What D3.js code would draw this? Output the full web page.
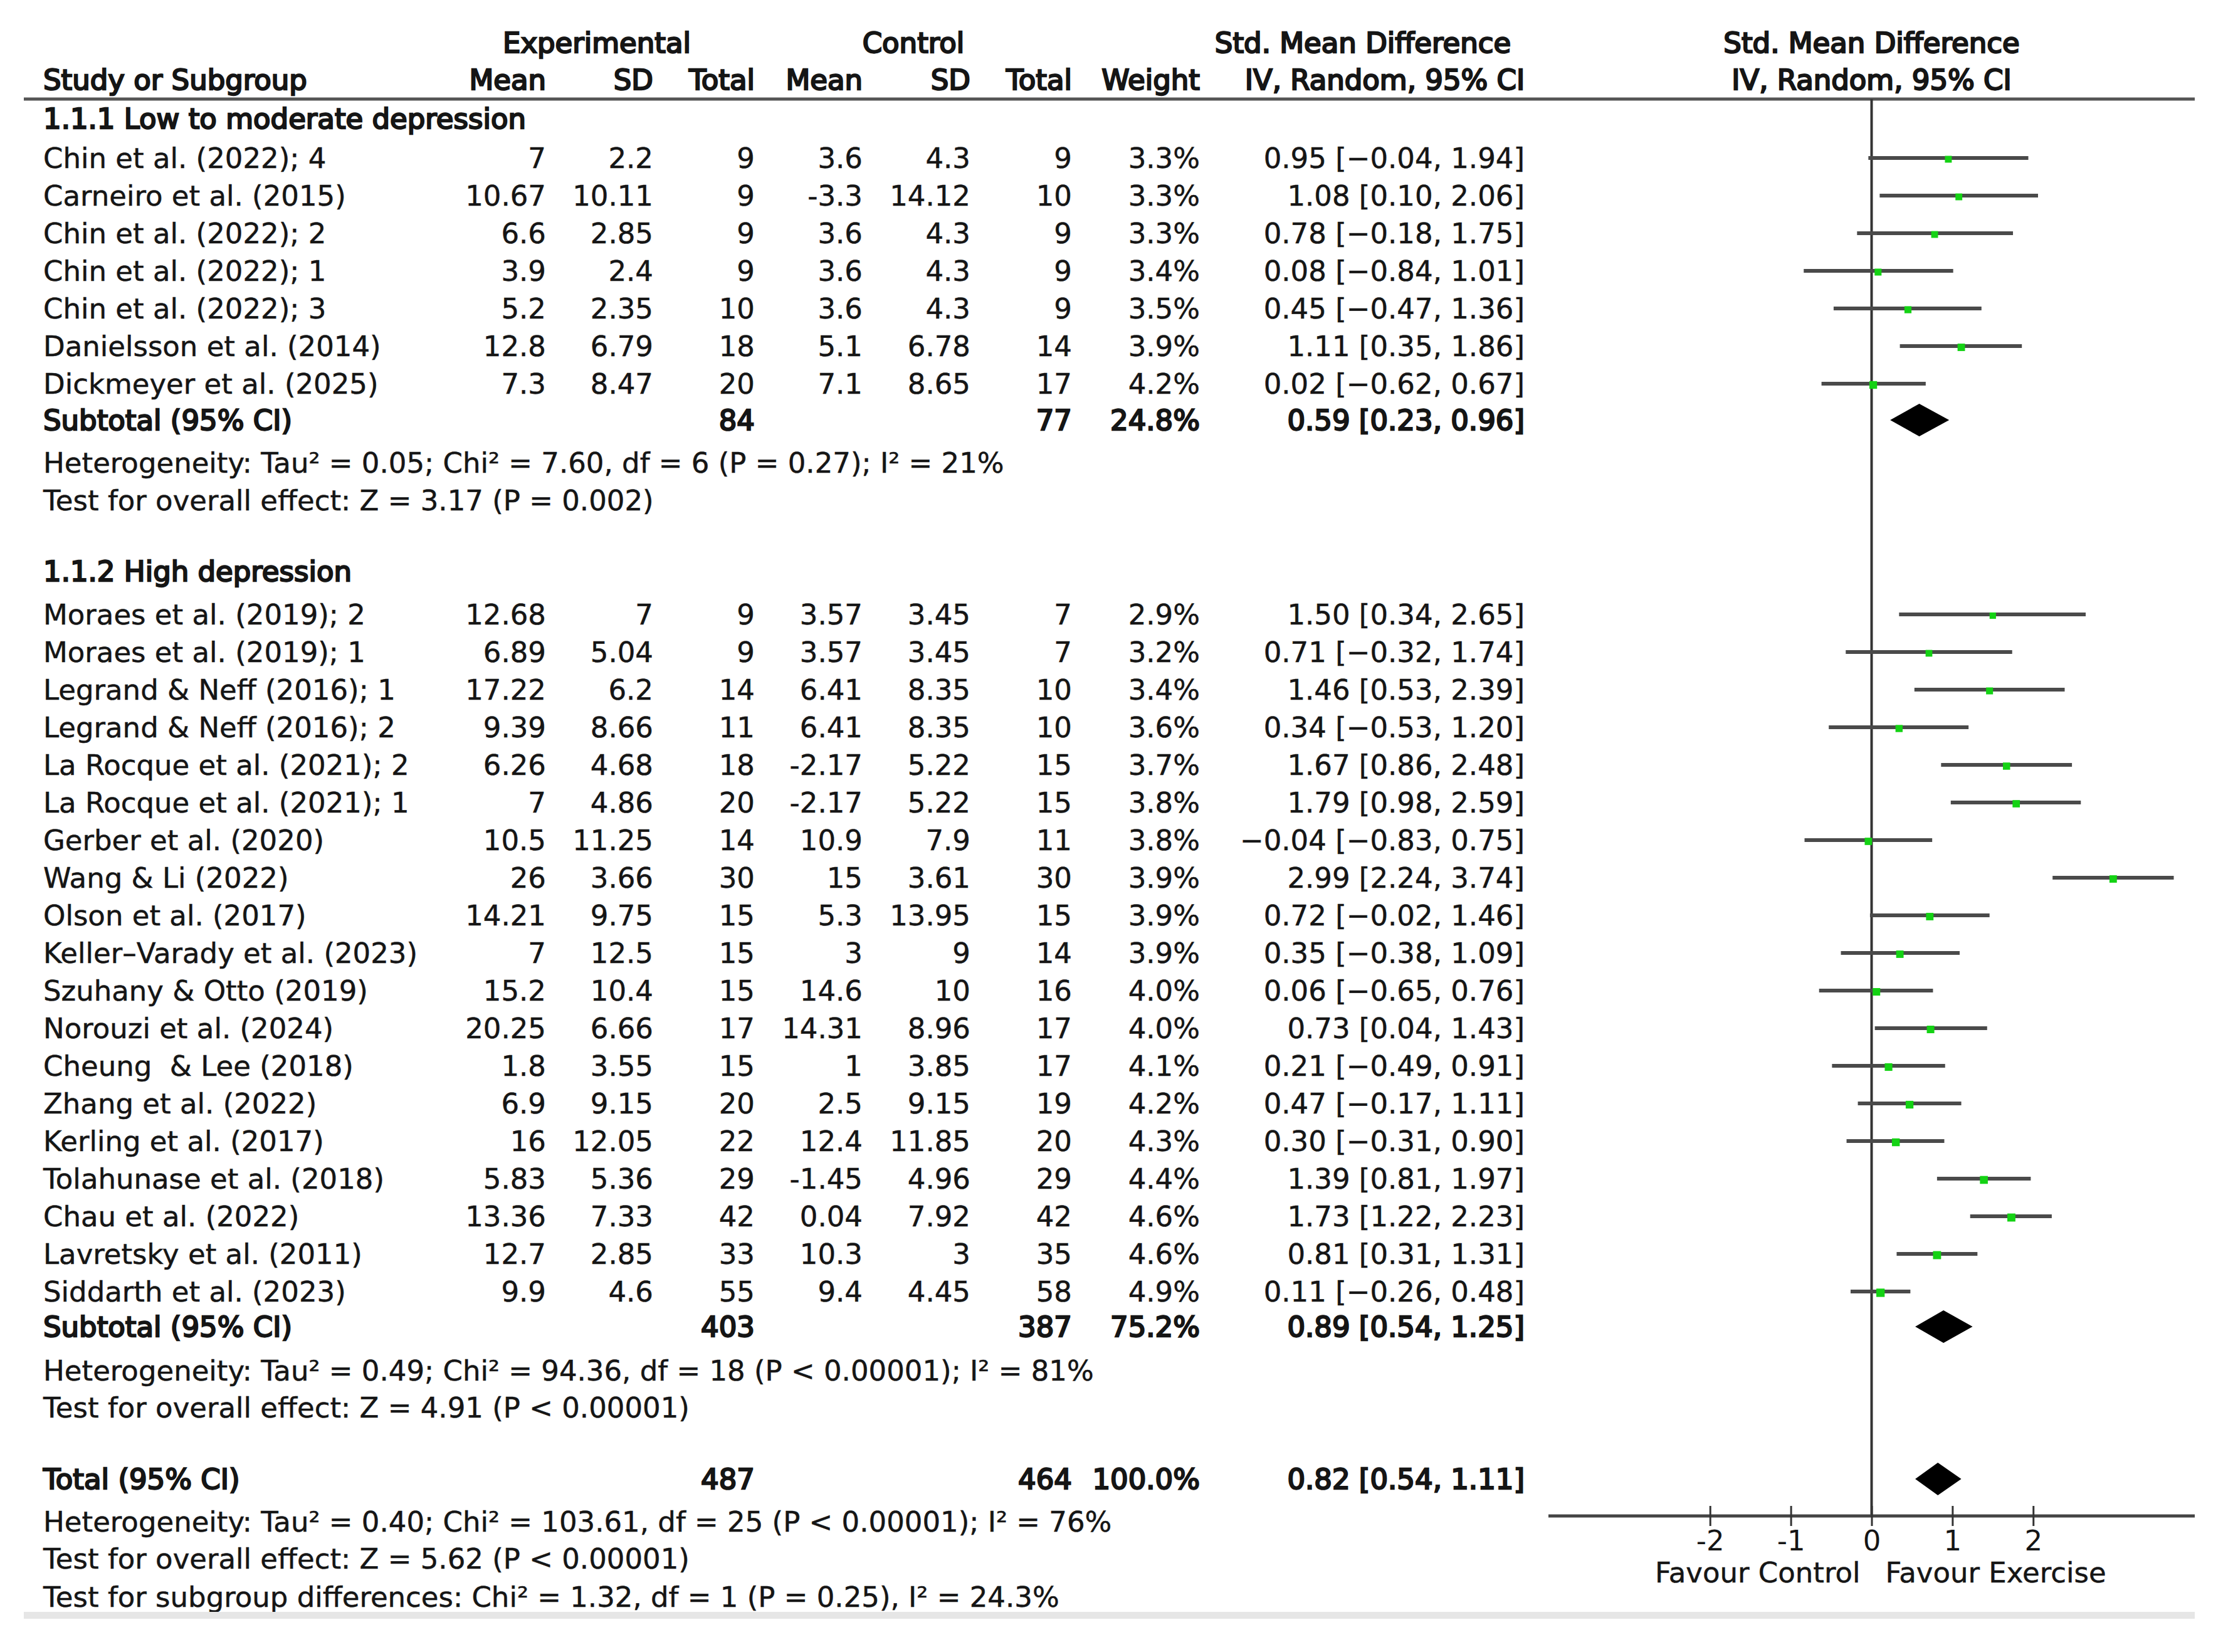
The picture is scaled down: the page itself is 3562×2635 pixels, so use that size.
<!DOCTYPE html>
<html>
<head>
<meta charset="utf-8">
<script src="https://cdn.jsdelivr.net/npm/d3@7/dist/d3.min.js"></script>
<style>
    body { margin: 0; background: #fff; }
    text { font-family: "DejaVu Sans", sans-serif; fill: #151515; white-space: pre; }
</style>
</head>
<body>
<svg id="forest" width="3562" height="2635"></svg>
<script>
// 1.1.1 低到中度抑郁
const lowStudies = ['Chin et al. (2022); 4', 'Carneiro et al. (2015)', 'Chin et al. (2022); 2', 'Chin et al. (2022); 1',
    'Chin et al. (2022); 3', 'Danielsson et al. (2014)', 'Dickmeyer et al. (2025)'];
const lowExpMean = [7, 10.67, 6.6, 3.9, 5.2, 12.8, 7.3];
const lowExpSD = [2.2, 10.11, 2.85, 2.4, 2.35, 6.79, 8.47];
const lowExpN = [9, 9, 9, 9, 10, 18, 20];
const lowCtrlMean = [3.6, -3.3, 3.6, 3.6, 3.6, 5.1, 7.1];
const lowCtrlSD = [4.3, 14.12, 4.3, 4.3, 4.3, 6.78, 8.65];
const lowCtrlN = [9, 10, 9, 9, 9, 14, 17];
const lowWeight = [3.3, 3.3, 3.3, 3.4, 3.5, 3.9, 4.2];
const lowSMD = [0.95, 1.08, 0.78, 0.08, 0.45, 1.11, 0.02];
const lowLo = [-0.04, 0.10, -0.18, -0.84, -0.47, 0.35, -0.62];
const lowHi = [1.94, 2.06, 1.75, 1.01, 1.36, 1.86, 0.67];

// 1.1.2 高度抑郁
const highStudies = ['Moraes et al. (2019); 2', 'Moraes et al. (2019); 1', 'Legrand & Neff (2016); 1', 'Legrand & Neff (2016); 2',
    'La Rocque et al. (2021); 2', 'La Rocque et al. (2021); 1', 'Gerber et al. (2020)', 'Wang & Li (2022)', 'Olson et al. (2017)',
    'Keller–Varady et al. (2023)', 'Szuhany & Otto (2019)', 'Norouzi et al. (2024)', 'Cheung  & Lee (2018)', 'Zhang et al. (2022)',
    'Kerling et al. (2017)', 'Tolahunase et al. (2018)', 'Chau et al. (2022)', 'Lavretsky et al. (2011)', 'Siddarth et al. (2023)'];
const highExpMean = [12.68, 6.89, 17.22, 9.39, 6.26, 7, 10.5, 26, 14.21, 7, 15.2, 20.25, 1.8, 6.9, 16, 5.83, 13.36, 12.7, 9.9];
const highExpSD = [7, 5.04, 6.2, 8.66, 4.68, 4.86, 11.25, 3.66, 9.75, 12.5, 10.4, 6.66, 3.55, 9.15, 12.05, 5.36, 7.33, 2.85, 4.6];
const highExpN = [9, 9, 14, 11, 18, 20, 14, 30, 15, 15, 15, 17, 15, 20, 22, 29, 42, 33, 55];
const highCtrlMean = [3.57, 3.57, 6.41, 6.41, -2.17, -2.17, 10.9, 15, 5.3, 3, 14.6, 14.31, 1, 2.5, 12.4, -1.45, 0.04, 10.3, 9.4];
const highCtrlSD = [3.45, 3.45, 8.35, 8.35, 5.22, 5.22, 7.9, 3.61, 13.95, 9, 10, 8.96, 3.85, 9.15, 11.85, 4.96, 7.92, 3, 4.45];
const highCtrlN = [7, 7, 10, 10, 15, 15, 11, 30, 15, 14, 16, 17, 17, 19, 20, 29, 42, 35, 58];
const highWeight = [2.9, 3.2, 3.4, 3.6, 3.7, 3.8, 3.8, 3.9, 3.9, 3.9, 4.0, 4.0, 4.1, 4.2, 4.3, 4.4, 4.6, 4.6, 4.9];
const highSMD = [1.50, 0.71, 1.46, 0.34, 1.67, 1.79, -0.04, 2.99, 0.72, 0.35, 0.06, 0.73, 0.21, 0.47, 0.30, 1.39, 1.73, 0.81, 0.11];
const highLo = [0.34, -0.32, 0.53, -0.53, 0.86, 0.98, -0.83, 2.24, -0.02, -0.38, -0.65, 0.04, -0.49, -0.17, -0.31, 0.81, 1.22, 0.31, -0.26];
const highHi = [2.65, 1.74, 2.39, 1.20, 2.48, 2.59, 0.75, 3.74, 1.46, 1.09, 0.76, 1.43, 0.91, 1.11, 0.90, 1.97, 2.23, 1.31, 0.48];

// 合并结果: 低/中, 高, 总计
const pooledLabels = ['Subtotal (95% CI)', 'Subtotal (95% CI)', 'Total (95% CI)'];
const pooledExpN = [84, 403, 487];
const pooledCtrlN = [77, 387, 464];
const pooledWeight = [24.8, 75.2, 100.0];
const pooledSMD = [0.59, 0.89, 0.82];
const pooledLo = [0.23, 0.54, 0.54];
const pooledHi = [0.96, 1.25, 1.11];

const groupTitles = ['1.1.1 Low to moderate depression', '1.1.2 High depression'];
const statLines = [
    ['Heterogeneity: Tau² = 0.05; Chi² = 7.60, df = 6 (P = 0.27); I² = 21%', 'Test for overall effect: Z = 3.17 (P = 0.002)'],
    ['Heterogeneity: Tau² = 0.49; Chi² = 94.36, df = 18 (P < 0.00001); I² = 81%', 'Test for overall effect: Z = 4.91 (P < 0.00001)'],
    ['Heterogeneity: Tau² = 0.40; Chi² = 103.61, df = 25 (P < 0.00001); I² = 76%', 'Test for overall effect: Z = 5.62 (P < 0.00001)',
        'Test for subgroup differences: Chi² = 1.32, df = 1 (P = 0.25), I² = 24.3%']
];
const axisTicks = [-2, -1, 0, 1, 2];
const favourLabels = ['Favour Control', 'Favour Exercise'];

const FS = 45;
const svg = d3.select('#forest');
const f2 = d3.format('.2f');
const f1 = d3.format('.1f');

// 列的位置 (右对齐)
const col = { study: 69, expMean: 871, expSD: 1042, expN: 1204, ctrlMean: 1376, ctrlSD: 1548, ctrlN: 1710, weight: 1914, ci: 2432 };

// 森林图的 x 比例尺
const x = d3.scaleLinear().domain([-4, 4]).range([2470, 3501]);
const axisY = 2418;
const topRule = 158;

function txt(xp, yp, s, anchor, bold) {
    const t = svg.append('text')
        .attr('x', xp)
        .attr('y', yp)
        .attr('dy', '0.36em')
        .attr('font-size', FS)
        .attr('text-anchor', anchor || 'start')
        .style('stroke', '#151515')
        .style('stroke-width', bold ? 2.4 : 0.5)
        .style('paint-order', 'stroke')
        .text(s);
    return t;
}

// 表头
txt(952, 68, 'Experimental', 'middle', true);
txt(1457, 68, 'Control', 'middle', true);
txt(2174, 68, 'Std. Mean Difference', 'middle', true);
txt(x(0), 68, 'Std. Mean Difference', 'middle', true);
txt(col.study, 127, 'Study or Subgroup', 'start', true);
[['expMean', 'Mean'], ['expSD', 'SD'], ['expN', 'Total'], ['ctrlMean', 'Mean'], ['ctrlSD', 'SD'], ['ctrlN', 'Total'], ['weight', 'Weight']]
    .forEach(d => txt(col[d[0]], 127, d[1], 'end', true));
txt(2209, 127, 'IV, Random, 95% CI', 'middle', true);
txt(x(0), 127, 'IV, Random, 95% CI', 'middle', true);

svg.append('line')
    .attr('x1', 38).attr('x2', x(4))
    .attr('y1', topRule).attr('y2', topRule)
    .attr('stroke', '#555').attr('stroke-width', 5);

// 零线
svg.append('line')
    .attr('x1', x(0)).attr('x2', x(0))
    .attr('y1', topRule).attr('y2', axisY)
    .attr('stroke', '#333').attr('stroke-width', 4);

function drawStudies(first, names, em, es, en, cm, cs, cn, w, smd, lo, hi) {
    const y = d3.scaleLinear().domain([0, names.length - 1]).range([first, first + (names.length - 1) * 60]);
    names.forEach((name, i) => {
        const yy = y(i);
        txt(col.study, yy, name);
        txt(col.expMean, yy, String(em[i]), 'end');
        txt(col.expSD, yy, String(es[i]), 'end');
        txt(col.expN, yy, String(en[i]), 'end');
        txt(col.ctrlMean, yy, String(cm[i]), 'end');
        txt(col.ctrlSD, yy, String(cs[i]), 'end');
        txt(col.ctrlN, yy, String(cn[i]), 'end');
        txt(col.weight, yy, f1(w[i]) + '%', 'end');
        txt(col.ci, yy, `${f2(smd[i])} [${f2(lo[i])}, ${f2(hi[i])}]`, 'end');

        svg.append('line')
            .attr('x1', x(lo[i])).attr('x2', x(hi[i]))
            .attr('y1', yy).attr('y2', yy)
            .attr('stroke', '#4a4a4a').attr('stroke-width', 6);
        const s = 6 * Math.sqrt(w[i]);
        svg.append('rect')
            .attr('x', x(smd[i]) - s / 2)
            .attr('y', yy - s / 2 + 2)
            .attr('width', s).attr('height', s)
            .attr('fill', '#14d214');
    });
}

function drawPooled(i, yy) {
    txt(col.study, yy, pooledLabels[i], 'start', true);
    txt(col.expN, yy, String(pooledExpN[i]), 'end', true);
    txt(col.ctrlN, yy, String(pooledCtrlN[i]), 'end', true);
    txt(col.weight, yy, f1(pooledWeight[i]) + '%', 'end', true);
    txt(col.ci, yy, `${f2(pooledSMD[i])} [${f2(pooledLo[i])}, ${f2(pooledHi[i])}]`, 'end', true);
    const h = 26;
    svg.append('path')
        .attr('d', `M${x(pooledLo[i])},${yy} L${x(pooledSMD[i])},${yy - h} L${x(pooledHi[i])},${yy} L${x(pooledSMD[i])},${yy + h} Z`)
        .attr('fill', '#000');
}

// 第一组
txt(col.study, 189, groupTitles[0], 'start', true);
drawStudies(252, lowStudies, lowExpMean, lowExpSD, lowExpN, lowCtrlMean, lowCtrlSD, lowCtrlN, lowWeight, lowSMD, lowLo, lowHi);
drawPooled(0, 670);
txt(col.study, 738, statLines[0][0]);
txt(col.study, 798, statLines[0][1]);

// 第二组
txt(col.study, 911, groupTitles[1], 'start', true);
drawStudies(980, highStudies, highExpMean, highExpSD, highExpN, highCtrlMean, highCtrlSD, highCtrlN, highWeight, highSMD, highLo, highHi);
drawPooled(1, 2116);
txt(col.study, 2186, statLines[1][0]);
txt(col.study, 2245, statLines[1][1]);

// 总计
drawPooled(2, 2359);
txt(col.study, 2427, statLines[2][0]);
txt(col.study, 2486, statLines[2][1]);
txt(col.study, 2547, statLines[2][2]);

// x 轴
const axisG = svg.append('g')
    .attr('transform', `translate(0,${axisY})`)
    .call(d3.axisBottom(x).tickValues(axisTicks).tickSize(16).tickPadding(8).tickFormat(d3.format('d')));
axisG.select('.domain').attr('stroke', '#444').attr('stroke-width', 5).attr('d', `M${x(-4)},0H${x(4)}`);
axisG.selectAll('.tick line').attr('y1', -16).attr('y2', 16).attr('stroke', '#333').attr('stroke-width', 3);
axisG.selectAll('.tick text')
    .attr('font-size', FS)
    .attr('font-family', '"DejaVu Sans", sans-serif')
    .attr('fill', '#151515')
    .attr('y', 39)
    .attr('dy', '0.36em')
    .text(d => d < 0 ? '-' + Math.abs(d) : String(d));

txt(x(0) - 18, 2508, favourLabels[0], 'end');
txt(x(0) + 22, 2508, favourLabels[1], 'start');

// 底部灰线
svg.append('rect')
    .attr('x', 38).attr('y', 2571)
    .attr('width', x(4) - 38).attr('height', 11)
    .attr('fill', '#e6e6e6');
</script>
</body>
</html>
